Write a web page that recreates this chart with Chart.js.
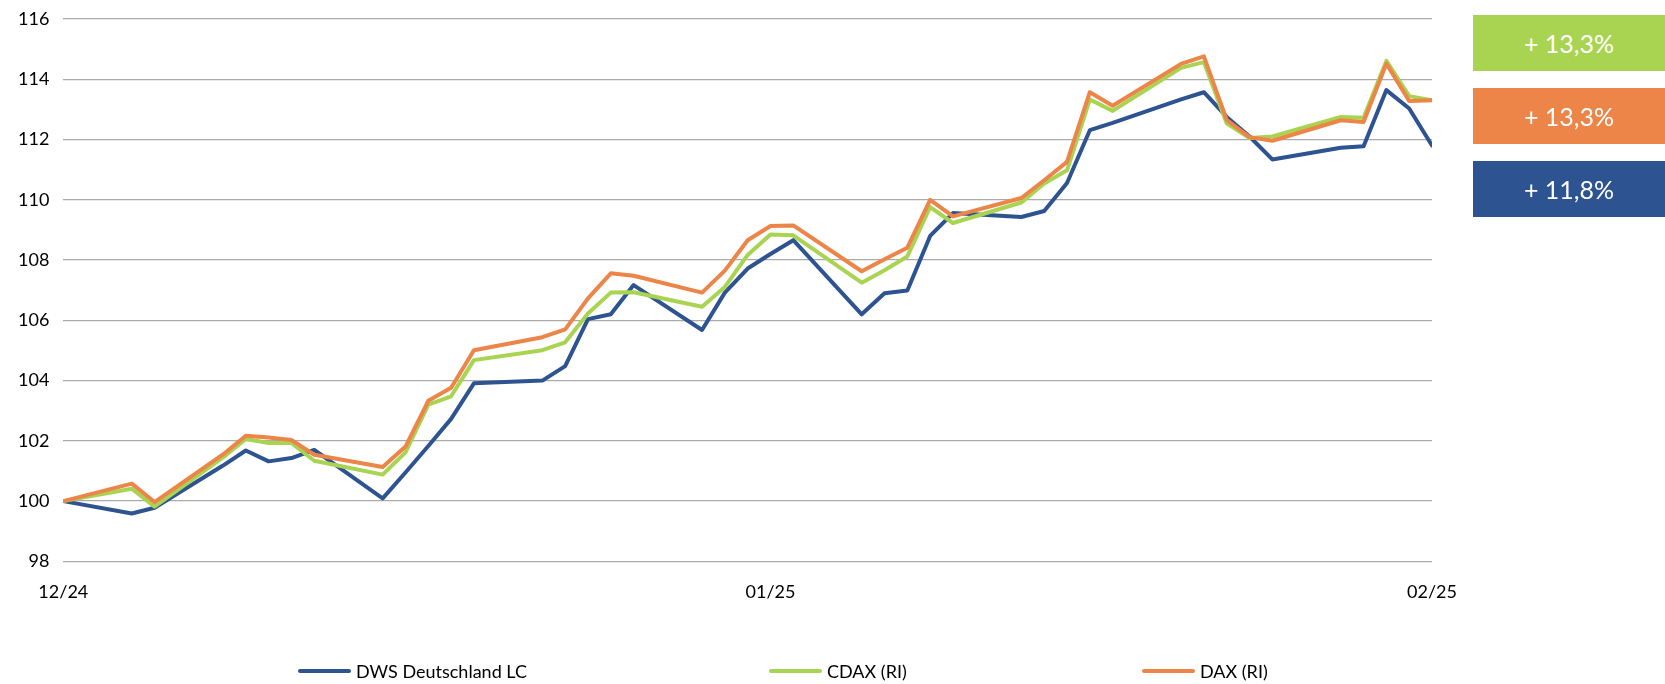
<!DOCTYPE html>
<html lang="de">
<head>
<meta charset="utf-8">
<title>DWS Deutschland LC vs. CDAX / DAX</title>
<script src="https://cdn.jsdelivr.net/npm/chart.js@4/dist/chart.umd.min.js"></script>
<style>
  html, body { margin: 0; padding: 0; background: #fff; }
  #wrap { position: relative; width: 1665px; height: 684px; font-family: Lato, "Open Sans", sans-serif; }
  #chart { position: absolute; left: 0; top: 0; }
  .perf {
    position: absolute; left: 1473px; width: 192px; height: 56px;
    color: #fff; font-size: 25px; line-height: 56px; text-align: center;
  }
  .legend-item {
    position: absolute; top: 660px; height: 22px; display: flex; align-items: center;
    font-size: 18px; color: #000; white-space: nowrap;
  }
  .legend-item span.swatch { display: inline-block; width: 53px; height: 4px; margin-right: 5px; border-radius: 2px; }
</style>
</head>
<body>
<div id="wrap">
  <canvas id="chart" width="1665" height="684"></canvas>
</div>
<script>
// trading days, indexed to 100 on the first day
const tradingDays = [
  "2024-12-30", "2025-01-02", "2025-01-03",
  "2025-01-06", "2025-01-07", "2025-01-08", "2025-01-09", "2025-01-10",
  "2025-01-13", "2025-01-14", "2025-01-15", "2025-01-16", "2025-01-17",
  "2025-01-20", "2025-01-21", "2025-01-22", "2025-01-23", "2025-01-24",
  "2025-01-27", "2025-01-28", "2025-01-29", "2025-01-30", "2025-01-31",
  "2025-02-03", "2025-02-04", "2025-02-05", "2025-02-06", "2025-02-07",
  "2025-02-10", "2025-02-11", "2025-02-12", "2025-02-13", "2025-02-14",
  "2025-02-17", "2025-02-18", "2025-02-19", "2025-02-20", "2025-02-21",
  "2025-02-24", "2025-02-25", "2025-02-26", "2025-02-27", "2025-02-28"
];

const dwsValues = [
  100, 99.59, 99.78,
  101.18, 101.68, 101.32, 101.43, 101.70,
  100.09, 100.95, 101.83, 102.73, 103.91,
  104.00, 104.48, 106.04, 106.20, 107.17,
  105.68, 106.92, 107.72, 108.20, 108.66,
  106.20, 106.90, 106.99, 108.80, 109.56,
  109.43, 109.63, 110.56, 112.31, 112.55,
  113.33, 113.57, 112.75, 112.10, 111.34,
  111.73, 111.78, 113.64, 113.03, 111.80
];

const cdaxValues = [
  100, 100.41, 99.82,
  101.45, 102.06, 101.93, 101.93, 101.34,
  100.88, 101.62, 103.20, 103.48, 104.68,
  105.01, 105.27, 106.23, 106.92, 106.93,
  106.45, 107.11, 108.17, 108.85, 108.82,
  107.25, 107.66, 108.12, 109.76, 109.23,
  109.91, 110.54, 110.98, 113.33, 112.95,
  114.38, 114.57, 112.54, 112.05, 112.10,
  112.75, 112.72, 114.61, 113.44, 113.30
];

const daxValues = [
  100, 100.58, 99.97,
  101.55, 102.17, 102.11, 102.03, 101.54,
  101.13, 101.81, 103.33, 103.76, 105.01,
  105.44, 105.70, 106.73, 107.56, 107.48,
  106.92, 107.65, 108.66, 109.13, 109.15,
  107.63, 108.03, 108.41, 110.00, 109.45,
  110.06, 110.65, 111.26, 113.57, 113.12,
  114.51, 114.76, 112.65, 112.08, 111.96,
  112.64, 112.58, 114.52, 113.28, 113.30
];

const tickDates = ["2024-12-30", "2025-01-30", "2025-02-28"];
const tickLabels = ["12/24", "01/25", "02/25"];
const yTicks = [98, 100, 102, 104, 106, 108, 110, 112, 114, 116];

const DAY = 86400000;
const start = Date.parse(tradingDays[0]);
const dayOf = (d) => Math.round((Date.parse(d) - start) / DAY);

const toPoints = (values) => values.map((v, i) => ({ x: dayOf(tradingDays[i]), y: v }));

const series = [
  { label: "DWS Deutschland LC", values: dwsValues, color: "#2D5391", order: 3 },
  { label: "CDAX (RI)", values: cdaxValues, color: "#A8D451", order: 2 },
  { label: "DAX (RI)", values: daxValues, color: "#ED8448", order: 1 },
];

const tickDays = tickDates.map(dayOf);
const font = { family: "Lato, 'Open Sans', sans-serif", size: 18 };

const chart = new Chart(document.getElementById("chart"), {
  type: "line",
  data: {
    datasets: series.map((s) => ({
      label: s.label,
      data: toPoints(s.values),
      borderColor: s.color,
      backgroundColor: s.color,
      borderWidth: 4,
      pointRadius: 0,
      tension: 0,
      borderJoinStyle: "round",
      borderCapStyle: "round",
      order: s.order,
    })),
  },
  options: {
    responsive: false,
    animation: false,
    layout: { padding: { left: 4, right: 233, top: 19, bottom: 69 } },
    plugins: { legend: { display: false }, tooltip: { enabled: false } },
    scales: {
      x: {
        type: "linear",
        min: tickDays[0],
        max: tickDays[tickDays.length - 1],
        afterBuildTicks: (axis) => { axis.ticks = tickDays.map((v) => ({ value: v })); },
        ticks: {
          autoSkip: false,
          maxRotation: 0,
          padding: 12,
          color: "#000",
          font,
          callback: (value) => tickLabels[tickDays.indexOf(value)],
        },
        grid: { display: false },
        border: { display: false },
      },
      y: {
        min: 98,
        max: 116,
        afterBuildTicks: (axis) => { axis.ticks = yTicks.map((v) => ({ value: v })); },
        // the tick padding is horizontal here, keep it out of the top/bottom reserve
        afterFit: (axis) => { axis.paddingTop = 10; axis.paddingBottom = 10; },
        ticks: { padding: 14, color: "#000", font },
        grid: { color: "#ABABAB", lineWidth: 1.3, drawTicks: false },
        border: { display: false },
      },
    },
  },
});

// performance boxes to the right: CDAX, DAX, DWS
const wrap = document.getElementById("wrap");
const boxOrder = [1, 2, 0];
const boxTops = [15, 88, 161];
boxOrder.forEach((idx, k) => {
  const s = series[idx];
  const last = s.values[s.values.length - 1];
  const box = document.createElement("div");
  box.className = "perf";
  box.style.top = boxTops[k] + "px";
  box.style.background = s.color;
  box.textContent = "+ " + (last - 100).toFixed(1).replace(".", ",") + "%";
  wrap.appendChild(box);
});

// legend below the plot
const legendLeft = [298, 769, 1142];
chart.data.datasets.forEach((ds, i) => {
  const item = document.createElement("div");
  item.className = "legend-item";
  item.style.left = legendLeft[i] + "px";
  const swatch = document.createElement("span");
  swatch.className = "swatch";
  swatch.style.background = ds.borderColor;
  item.appendChild(swatch);
  item.appendChild(document.createTextNode(ds.label));
  wrap.appendChild(item);
});
</script>
</body>
</html>
